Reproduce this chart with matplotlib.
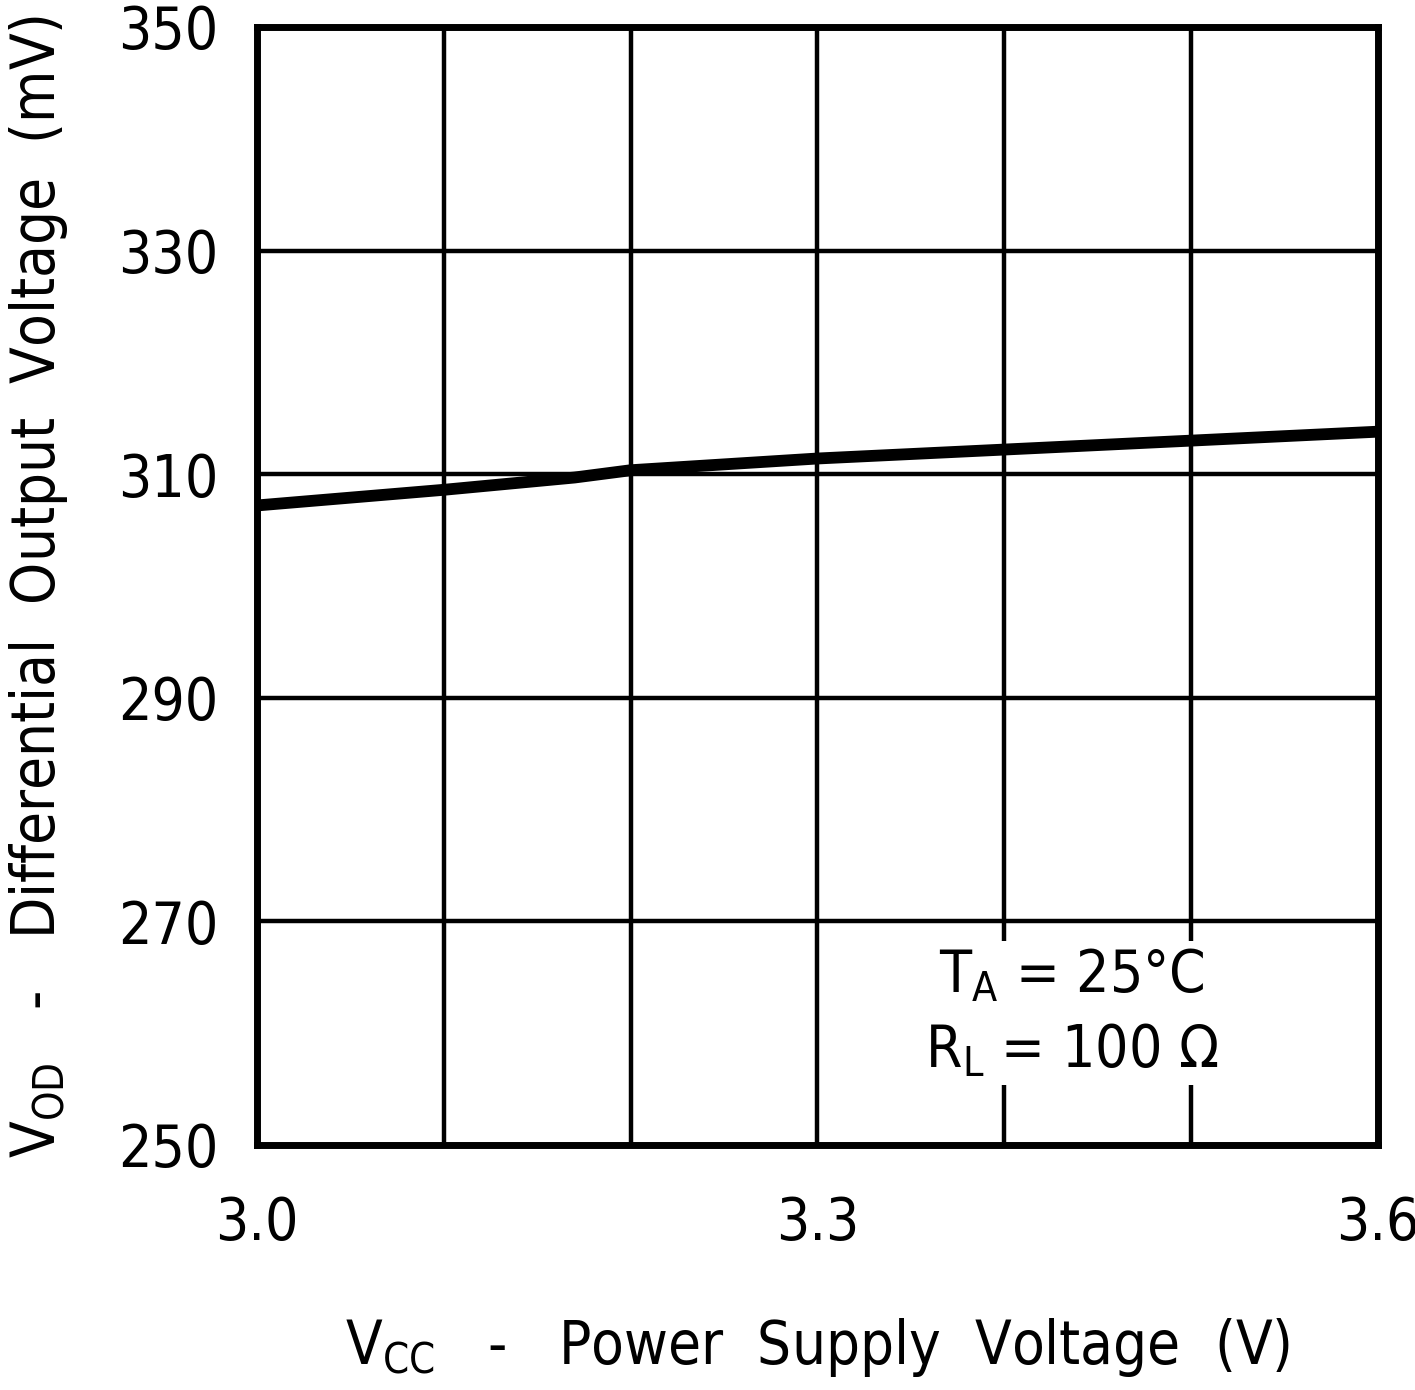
import matplotlib
matplotlib.use("Agg")
import matplotlib.pyplot as plt

# data
vcc = [3.0, 3.1, 3.17, 3.2, 3.3, 3.4, 3.5, 3.6]
vod = [307.2, 308.6, 309.7, 310.35, 311.4, 312.2, 313.0, 313.8]

x_ticks = [3.0, 3.3, 3.6]
x_tick_labels = ["3.0", "3.3", "3.6"]
x_grid = [3.0, 3.1, 3.2, 3.3, 3.4, 3.5, 3.6]
y_ticks = [250, 270, 290, 310, 330, 350]

plt.rcParams['font.family'] = ['DejaVu Sans']
plt.rcParams['font.stretch'] = 'condensed'
plt.rcParams['mathtext.fontset'] = 'custom'
plt.rcParams['mathtext.rm'] = 'DejaVu Sans:stretch=condensed'

fig = plt.figure(figsize=(14.15, 13.9), dpi=100)
ax = fig.add_axes([0.1816, 0.1763, 0.7922, 0.8043])

ax.plot(vcc, vod, color='black', linewidth=8.5, solid_capstyle='butt', zorder=3)

ax.set_xlim(3.0, 3.6)
ax.set_ylim(250, 350)

# grid every 0.1 V, labels only at 3.0 / 3.3 / 3.6
ax.set_xticks(x_grid, minor=True)
ax.set_xticks(x_ticks)
ax.set_xticklabels(x_tick_labels)
ax.set_yticks(y_ticks)
ax.grid(True, which='both', color='black', linewidth=3.2)
ax.tick_params(which='both', length=0)
ax.tick_params(axis='x', pad=36, labelsize=42)
ax.tick_params(axis='y', pad=28, labelsize=42)

for s in ax.spines.values():
    s.set_linewidth(5)

ax.set_xlabel(r"V$_{\mathregular{CC}}$   -   Power  Supply  Voltage  (V)", fontsize=43, labelpad=46)
ax.set_ylabel(r"V$_{\mathregular{OD}}$   -   Differential  Output  Voltage  (mV)", fontsize=43, labelpad=34)

ax.text(3.436, 267.7, "T$_{\\mathregular{A}}$ = 25°C\nR$_{\\mathregular{L}}$ = 100 Ω",
        fontsize=42, ha='center', va='top', linespacing=1.38,
        bbox=dict(facecolor='white', edgecolor='none', pad=4), zorder=4)

fig.savefig("out.png", dpi=100)
